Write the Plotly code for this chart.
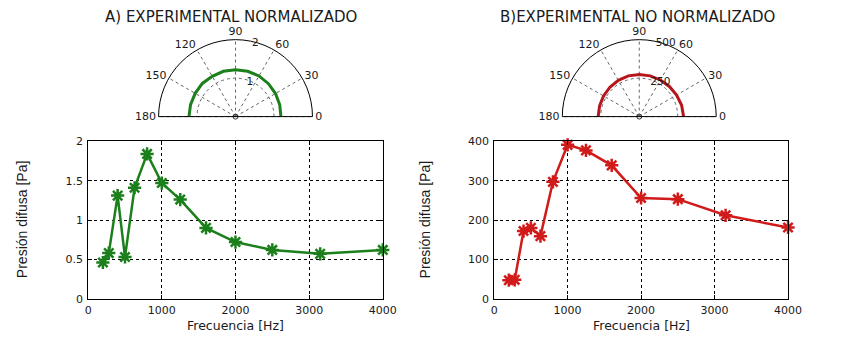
import plotly.graph_objects as go

# Diffuse pressure per third-octave band
freq_hz = [200, 280, 400, 500, 630, 800, 1000, 1250, 1600, 2000, 2500, 3150, 4000]
pres_norm = [0.46, 0.58, 1.31, 0.53, 1.41, 1.84, 1.47, 1.26, 0.90, 0.72, 0.62, 0.57, 0.62]
pres_abs = [47, 48, 172, 180, 159, 297, 391, 377, 339, 256, 253, 212, 181]

# Directional pattern (half plane)
theta_deg = [0, 15, 30, 45, 60, 75, 90, 105, 120, 135, 150, 165, 180]
r_norm = [1.18, 1.19, 1.20, 1.21, 1.22, 1.22, 1.22, 1.22, 1.21, 1.22, 1.21, 1.21, 1.21]
r_abs = [288, 285, 280, 277, 275, 274, 274, 274, 272, 270, 268, 267, 267]
origin_r = [0]
origin_theta = [0]

x_ticks = [0, 1000, 2000, 3000, 4000]
y_ticks_norm = [0, 0.5, 1, 1.5, 2]
y_ticks_abs = [0, 100, 200, 300, 400]

GREEN = "#1b7f1b"
RED = "#d11a1a"
RED_DARK = "#b5161c"
TXT = "#1a1a1a"
TICK_FONT = dict(family="DejaVu Sans", size=11, color=TXT)

fig = go.Figure()

# Frequency response panels
fig.add_trace(go.Scatter(
    x=freq_hz, y=pres_norm, xaxis="x", yaxis="y", mode="lines+markers",
    line=dict(color=GREEN, width=2.5),
    marker=dict(symbol="asterisk-open", size=11, color=GREEN,
                line=dict(color=GREEN, width=2.5)),
    showlegend=False, cliponaxis=False))
fig.add_trace(go.Scatter(
    x=freq_hz, y=pres_abs, xaxis="x2", yaxis="y2", mode="lines+markers",
    line=dict(color=RED, width=2.5),
    marker=dict(symbol="asterisk-open", size=11, color=RED,
                line=dict(color=RED, width=2.5)),
    showlegend=False, cliponaxis=False))

# Polar panels
fig.add_trace(go.Scatterpolar(
    r=r_norm, theta=theta_deg, subplot="polar", mode="lines",
    line=dict(color=GREEN, width=3), showlegend=False))
fig.add_trace(go.Scatterpolar(
    r=origin_r, theta=origin_theta, subplot="polar", mode="markers",
    marker=dict(symbol="circle-open", size=5, color="#333"), showlegend=False))
fig.add_trace(go.Scatterpolar(
    r=r_abs, theta=theta_deg, subplot="polar2", mode="lines",
    line=dict(color=RED_DARK, width=3), showlegend=False))
fig.add_trace(go.Scatterpolar(
    r=origin_r, theta=origin_theta, subplot="polar2", mode="markers",
    marker=dict(symbol="circle-open", size=5, color="#333"), showlegend=False))


def cart_axis(domain, rng, ticks, anchor, standoff):
    return dict(
        domain=domain, range=rng, tickvals=ticks, anchor=anchor,
        showline=True, linecolor="black", linewidth=1, mirror="allticks",
        ticks="inside", ticklen=4, tickcolor="black",
        showgrid=True, gridcolor="black", gridwidth=1, griddash="dot",
        zeroline=False, tickfont=TICK_FONT, fixedrange=True,
        ticklabelstandoff=standoff)


def polar_axis(domain_x, rmax, rtick):
    return dict(
        domain=dict(x=domain_x, y=[0.6628, 0.8974]),
        sector=[0, 180], bgcolor="white",
        angularaxis=dict(
            direction="counterclockwise", rotation=0, dtick=30,
            ticksuffix="", showticksuffix="none",
            showline=True, linecolor="black", linewidth=1,
            showgrid=True, gridcolor="#666", griddash="dot", gridwidth=1,
            ticks="", tickfont=TICK_FONT),
        radialaxis=dict(
            range=[0, rmax], tickvals=rtick, angle=82, tickangle=82,
            side="clockwise", showline=False, ticks="",
            showgrid=True, gridcolor="#666", griddash="dot", gridwidth=1,
            tickfont=dict(family="DejaVu Sans", size=10.5, color=TXT)))


fig.update_layout(
    width=852, height=341,
    margin=dict(l=0, r=0, t=0, b=0),
    paper_bgcolor="white", plot_bgcolor="white",
    xaxis=cart_axis([0.1009, 0.4542], [0, 4000], x_ticks, "y", 1),
    yaxis=cart_axis([0.1076, 0.5874], [0, 2], y_ticks_norm, "x", 2),
    xaxis2=cart_axis([0.5877, 0.9401], [0, 4000], x_ticks, "y2", 1),
    yaxis2=cart_axis([0.1076, 0.5874], [0, 400], y_ticks_abs, "x2", 2),
    polar=polar_axis([0.1837, 0.3715], 2, [1, 2]),
    polar2=polar_axis([0.6678, 0.8556], 500, [250, 500]),
)

annotations = [
    dict(text="A) EXPERIMENTAL NORMALIZADO", x=232 / 852, y=1 - 11 / 341,
         font=dict(family="DejaVu Sans", size=15, color=TXT)),
    dict(text="B)EXPERIMENTAL NO NORMALIZADO", x=647 / 852, y=1 - 11 / 341,
         font=dict(family="DejaVu Sans", size=15, color=TXT)),
    dict(text="Frecuencia [Hz]", x=236.5 / 852, y=1 - 332.5 / 341,
         font=dict(family="DejaVu Sans", size=12.5, color=TXT)),
    dict(text="Frecuencia [Hz]", x=650.8 / 852, y=1 - 332.5 / 341,
         font=dict(family="DejaVu Sans", size=12.5, color=TXT)),
    dict(text="Presión difusa [Pa]", x=18 / 852, y=1 - 222 / 341, textangle=-90,
         font=dict(family="Liberation Sans", size=14, color=TXT)),
    dict(text="Presión difusa [Pa]", x=430 / 852, y=1 - 222 / 341, textangle=-90,
         font=dict(family="Liberation Sans", size=14, color=TXT)),
]
for a in annotations:
    a.update(xref="paper", yref="paper", showarrow=False,
             xanchor="center", yanchor="middle")
fig.update_layout(annotations=annotations)

fig.write_html("out.html")
